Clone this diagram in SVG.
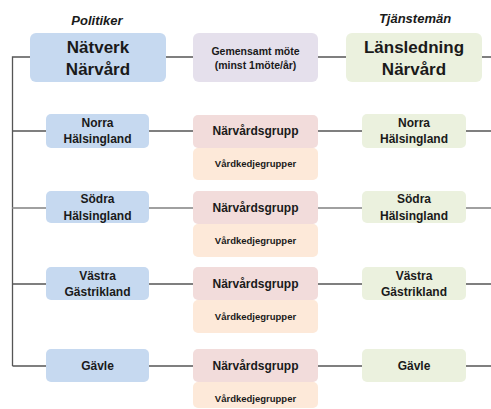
<svg xmlns="http://www.w3.org/2000/svg" width="491" height="409" viewBox="0 0 491 409">
<style>
text{font-family:"Liberation Sans",Arial,sans-serif;font-weight:bold;fill:#1a1a1a;text-anchor:middle}
.blue{fill:#c6d9f0}.purple{fill:#e5e0ec}.green{fill:#ebf1de}.pink{fill:#f2dcdb}.peach{fill:#fde9d9}
.big{font-size:17px}.mid{font-size:12px}.sm{font-size:9.5px}.hdr{font-size:13px;font-style:italic}
.ln{stroke:#555;stroke-width:1.3;fill:none}.lnl{stroke:#a0a0a0;stroke-width:2;fill:none}
</style>
<rect width="491" height="409" fill="#fff"/>
<g id="connectors">
<path class="ln" d="M12.5 366V57H30M166 57H193M318 57H346M482 57H491"/>
<path class="ln" d="M12.5 131H46M149 131H193M318 131H362M466 131H491"/>
<path class="lnl" d="M12.5 208H46M149 208H193M318 208H362M466 208H491"/>
<path class="ln" d="M12.5 284H46M149 284H193M318 284H362M466 284H491"/>
<path class="ln" d="M12.5 366H46M149 366H193M318 366H362M466 366H491"/>
</g>
<g id="hdr-politiker"><text class="hdr" x="97" y="25">Politiker</text></g>
<g id="hdr-tjanstemän"><text class="hdr" x="415" y="23">Tjänstemän</text></g>
<g id="natverk"><rect class="blue" x="30" y="33" width="136" height="49" rx="6"/><text class="big" x="98" y="53">Nätverk</text><text class="big" x="98" y="75">Närvård</text></g>
<g id="gemensamt"><rect class="purple" x="193" y="33" width="125" height="49" rx="6"/><text style="font-size:10.5px" x="255.5" y="55">Gemensamt möte</text><text style="font-size:10.5px" x="255.5" y="69">(minst 1möte/år)</text></g>
<g id="lansledning"><rect class="green" x="346" y="33" width="136" height="49" rx="6"/><text class="big" x="414" y="53">Länsledning</text><text class="big" x="414" y="75">Närvård</text></g>

<g id="norra-pol"><rect class="blue" x="46" y="114" width="103" height="34" rx="5"/><text class="mid" x="97.5" y="127">Norra</text><text class="mid" x="97.5" y="143">Hälsingland</text></g>
<g id="norra-nvg"><rect class="pink" x="193" y="115" width="125" height="33" rx="5"/><text class="mid" x="255.5" y="135">Närvårdsgrupp</text></g>
<g id="norra-vkg"><rect class="peach" x="193" y="148" width="125" height="32" rx="5"/><text class="sm" x="255.5" y="167">Vårdkedjegrupper</text></g>
<g id="norra-tj"><rect class="green" x="362" y="114" width="104" height="34" rx="5"/><text class="mid" x="414" y="127">Norra</text><text class="mid" x="414" y="143">Hälsingland</text></g>

<g id="sodra-pol"><rect class="blue" x="46" y="191" width="103" height="32" rx="5"/><text class="mid" x="97.5" y="203">Södra</text><text class="mid" x="97.5" y="220">Hälsingland</text></g>
<g id="sodra-nvg"><rect class="pink" x="193" y="191" width="125" height="33" rx="5"/><text class="mid" x="255.5" y="212">Närvårdsgrupp</text></g>
<g id="sodra-vkg"><rect class="peach" x="193" y="224" width="125" height="33" rx="5"/><text class="sm" x="255.5" y="244">Vårdkedjegrupper</text></g>
<g id="sodra-tj"><rect class="green" x="362" y="191" width="104" height="32" rx="5"/><text class="mid" x="414" y="203">Södra</text><text class="mid" x="414" y="220">Hälsingland</text></g>

<g id="vastra-pol"><rect class="blue" x="46" y="267" width="103" height="33" rx="5"/><text class="mid" x="97.5" y="280">Västra</text><text class="mid" x="97.5" y="296">Gästrikland</text></g>
<g id="vastra-nvg"><rect class="pink" x="193" y="267" width="125" height="33" rx="5"/><text class="mid" x="255.5" y="288">Närvårdsgrupp</text></g>
<g id="vastra-vkg"><rect class="peach" x="193" y="300" width="125" height="33" rx="5"/><text class="sm" x="255.5" y="320">Vårdkedjegrupper</text></g>
<g id="vastra-tj"><rect class="green" x="362" y="267" width="104" height="33" rx="5"/><text class="mid" x="414" y="280">Västra</text><text class="mid" x="414" y="296">Gästrikland</text></g>

<g id="gavle-pol"><rect class="blue" x="46" y="349" width="103" height="33" rx="5"/><text class="mid" x="97.5" y="370">Gävle</text></g>
<g id="gavle-nvg"><rect class="pink" x="193" y="349" width="125" height="33" rx="5"/><text class="mid" x="255.5" y="370">Närvårdsgrupp</text></g>
<g id="gavle-vkg"><rect class="peach" x="193" y="382" width="125" height="26" rx="5"/><text class="sm" x="255.5" y="402">Vårdkedjegrupper</text></g>
<g id="gavle-tj"><rect class="green" x="362" y="349" width="104" height="33" rx="5"/><text class="mid" x="414" y="370">Gävle</text></g>
</svg>
